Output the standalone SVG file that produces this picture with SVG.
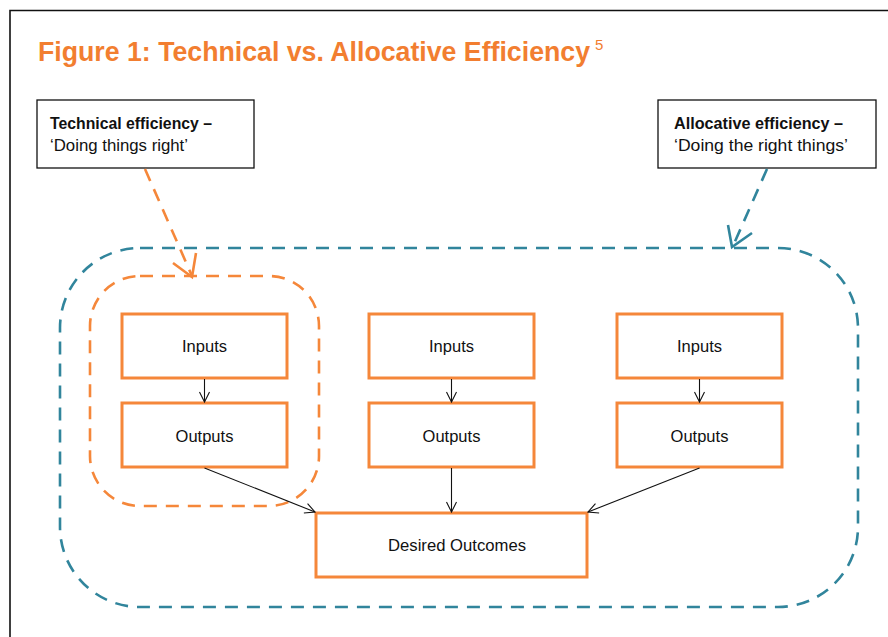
<svg xmlns="http://www.w3.org/2000/svg" width="888" height="637" viewBox="0 0 888 637">
  <style>
    text { font-family: "Liberation Sans", "DejaVu Sans", sans-serif; fill: #111; }
    .title { font-size: 27px; font-weight: bold; fill: #F27E30; }
    .sup { font-size: 15px; fill: #F27E30; }
    .lbl { font-size: 16.5px; }
    .note-t { font-size: 16px; }
    .b { font-weight: bold; }
    .box { fill: #fff; stroke: #F5873A; stroke-width: 3; }
    .note { fill: #fff; stroke: #111; stroke-width: 1.3; }
    .flow { fill: none; stroke: #111; stroke-width: 1.1; }
    .orange-dash { fill: none; stroke: #F5873A; stroke-width: 2.6; stroke-dasharray: 13 9; }
    .teal-dash { fill: none; stroke: #31859C; stroke-width: 2.6; stroke-dasharray: 13 9; }
    .head-o { fill: none; stroke: #F5873A; stroke-width: 2.6; }
    .head-t { fill: none; stroke: #31859C; stroke-width: 2.6; }
  </style>
  <defs>
    <marker id="open" viewBox="0 0 12 12" refX="11" refY="6" markerWidth="12" markerHeight="12" markerUnits="userSpaceOnUse" orient="auto">
      <path d="M1,1 L11,6 L1,11" fill="none" stroke="#111" stroke-width="1.1"/>
    </marker>
  </defs>

  <rect width="888" height="637" fill="#fff"/>
  <!-- page frame -->
  <path d="M10,637 V10.5 H888" fill="none" stroke="#111" stroke-width="1.6"/>

  <!-- title -->
  <text class="title" x="38" y="61" textLength="552" lengthAdjust="spacingAndGlyphs">Figure 1: Technical vs. Allocative Efficiency</text>
  <text class="sup" x="595" y="50">5</text>

  <!-- scope outlines -->
  <g id="allocative-scope">
    <rect class="teal-dash" x="60" y="248" width="798" height="359" rx="80" ry="80"/>
  </g>
  <g id="technical-scope">
    <rect class="orange-dash" x="90" y="276" width="229" height="230" rx="50" ry="50"/>
  </g>

  <!-- callout notes -->
  <g id="note-technical">
    <rect class="note" x="37" y="100" width="217" height="68"/>
    <text class="note-t b" x="50" y="129" textLength="162" lengthAdjust="spacingAndGlyphs">Technical efficiency –</text>
    <text class="note-t" x="50" y="151" textLength="138" lengthAdjust="spacingAndGlyphs">‘Doing things right’</text>
  </g>
  <g id="note-allocative">
    <rect class="note" x="658" y="100" width="218" height="68"/>
    <text class="note-t b" x="674" y="129" textLength="169" lengthAdjust="spacingAndGlyphs">Allocative efficiency –</text>
    <text class="note-t" x="674" y="151" textLength="174" lengthAdjust="spacingAndGlyphs">‘Doing the right things’</text>
  </g>

  <!-- process nodes -->
  <g id="inputs-1"><rect class="box" x="122" y="314" width="165" height="64"/><text class="lbl" x="204.5" y="352" text-anchor="middle">Inputs</text></g>
  <g id="outputs-1"><rect class="box" x="122" y="403" width="165" height="64"/><text class="lbl" x="204.5" y="442" text-anchor="middle">Outputs</text></g>
  <g id="inputs-2"><rect class="box" x="369" y="314" width="165" height="64"/><text class="lbl" x="451.5" y="352" text-anchor="middle">Inputs</text></g>
  <g id="outputs-2"><rect class="box" x="369" y="403" width="165" height="64"/><text class="lbl" x="451.5" y="442" text-anchor="middle">Outputs</text></g>
  <g id="inputs-3"><rect class="box" x="617" y="314" width="165" height="64"/><text class="lbl" x="699.5" y="352" text-anchor="middle">Inputs</text></g>
  <g id="outputs-3"><rect class="box" x="617" y="403" width="165" height="64"/><text class="lbl" x="699.5" y="442" text-anchor="middle">Outputs</text></g>
  <g id="desired-outcomes"><rect class="box" x="316" y="513" width="271" height="64"/><text class="lbl" x="457" y="551" text-anchor="middle" textLength="138" lengthAdjust="spacingAndGlyphs">Desired Outcomes</text></g>

  <!-- connectors -->
  <g id="connectors">
    <line class="flow" x1="204.5" y1="379" x2="204.5" y2="402" marker-end="url(#open)"/>
    <line class="flow" x1="451.5" y1="379" x2="451.5" y2="402" marker-end="url(#open)"/>
    <line class="flow" x1="699.5" y1="379" x2="699.5" y2="402" marker-end="url(#open)"/>
    <line class="flow" x1="204.5" y1="468" x2="315" y2="512" marker-end="url(#open)"/>
    <line class="flow" x1="451.5" y1="468" x2="451.5" y2="512" marker-end="url(#open)"/>
    <line class="flow" x1="699.5" y1="468" x2="588" y2="512" marker-end="url(#open)"/>

    <!-- callout pointers -->
    <line class="orange-dash" x1="145" y1="169" x2="192" y2="276"/>
    <path class="head-o" d="M173,263 L192,277 L196,253"/>
    <line class="teal-dash" x1="767" y1="169" x2="733" y2="246"/>
    <path class="head-t" d="M728,225 L732,247 L752,233"/>
  </g>
</svg>
